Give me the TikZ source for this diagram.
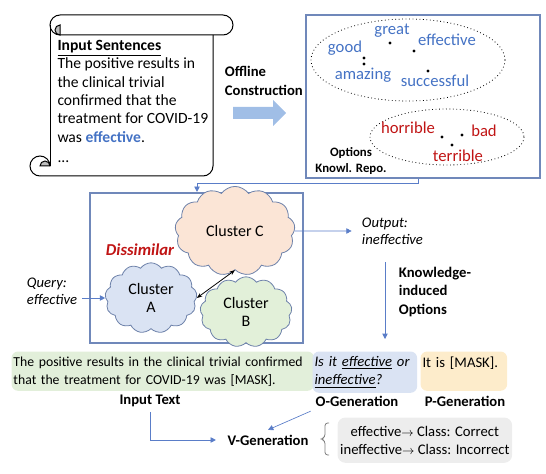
\documentclass[tikz,border=0pt]{standalone}
\usepackage{fontspec}
\setmainfont{Carlito}
\usetikzlibrary{shapes.symbols,fit,arrows.meta}
\definecolor{wordblue}{RGB}{68,114,196}
\definecolor{wordred}{RGB}{192,20,20}
\definecolor{boxline}{RGB}{112,136,186}
\definecolor{linkblue}{RGB}{90,125,200}
\definecolor{cloudline}{RGB}{110,130,170}
\definecolor{curlgray}{RGB}{190,190,190}
\tikzset{every picture/.style={line width=0.75pt}}
\tikzset{
	link/.style={draw=linkblue, line width=0.5pt, -{Triangle[length=4pt,width=4pt]}},
	repobox/.style={draw=boxline, line width=1.6pt, inner sep=0pt},
	cluster/.style={cloud, cloud puffs=13, cloud puff arc=110, draw=cloudline, line width=0.6pt, align=center, inner sep=0pt, font=\fontsize{12}{14}\selectfont},
	word/.style={font=\fontsize{12.5}{14}\selectfont},
	lbl/.style={font=\fontsize{11}{13.7}\selectfont\bfseries},
	genbox/.style={anchor=north west, rounded corners=5pt, align=left, inner sep=1.5pt, minimum height=29.5pt}}
\newcommand{\toarr}{{\small$\mathord{\rightarrow}$}}

\begin{document}
\begin{tikzpicture}[x=0.75pt,y=0.75pt,yscale=-1,xscale=1,font=\fontsize{11}{13.7}\selectfont]
	\useasboundingbox (0,0) rectangle (546,474);

	%Shape: Scroll body
	\draw (50,25) -- (50,166);
	\draw (213,35) -- (213,166) arc[start angle=0, end angle=90, radius=10] -- (40,176);
	%Shape: Scroll top roll
	\draw (60,35) arc[start angle=90, end angle=270, radius=10] -- (223,15) arc[start angle=270, end angle=450, radius=10] -- (60,35);
	\filldraw [fill=curlgray] (60,25) arc[start angle=270, end angle=90, radius=5] -- cycle;
	%Shape: Scroll bottom curl
	\draw (40,176) arc[start angle=90, end angle=270, radius=10] arc[start angle=270, end angle=360, radius=10];
	\filldraw [fill=curlgray] (40,166) arc[start angle=180, end angle=360, radius=5] -- cycle;
	% Text Node
	\node [anchor=north west, align=left, inner sep=0pt, font=\fontsize{11.7}{13.7}\selectfont] (sent) at (57,40) {\underline{\textbf{Input Sentences}}\\The positive results in\\the clinical trivial\\confirmed that the\\treatment for COVID-19\\was \textcolor{wordblue}{\textbf{effective}}.\\[2pt]...};

	%Right Arrow
	\draw [draw opacity=0][fill={rgb, 255:red, 160; green, 190; blue, 230}, fill opacity=1] (233,107) -- (273,107) -- (273,100) -- (286,113) -- (273,126) -- (273,119) -- (233,119) -- cycle;
	% Text Node
	\node [lbl, anchor=west, align=left] (offline) at (220,81) {Offline\\Construction};

	%Shape: Rectangle (knowledge repository)
	\node [repobox, fit={(306,15) (540,178)}] (repo) {};
	%Shape: Ellipse
	\draw [dotted, line width=0.6pt] (408,60) ellipse [x radius=97, y radius=41];
	%Shape: Ellipse
	\draw [dotted, line width=0.6pt] (447,137) ellipse [x radius=77, y radius=28];
	% Text Node
	\node [word, text=wordblue] (great) at (392,31) {great};
	\node [word, text=wordblue] (effective) at (447,40) {effective};
	\node [word, text=wordblue] (good) at (345,48) {good};
	\node [word, text=wordblue] (amazing) at (363,75) {amazing};
	\node [word, text=wordblue] (successful) at (435,81) {successful};
	\node [word, text=wordred] (horrible) at (408,128) {horrible};
	\node [word, text=wordred] (bad) at (484,131) {bad};
	\node [word, text=wordred] (terrible) at (458,156) {terrible};
	\foreach \dx/\dy in {390/43, 414/51, 364/58, 364/64, 428/71, 442/137, 462/135, 452/145}
		\fill (\dx,\dy) circle [radius=1.6];
	% Text Node
	\node [font=\fontsize{9.6}{11.5}\selectfont\bfseries, align=center] (optlbl) at (351,161) {Options\\Knowl. Repo.};

	%Shape: Rectangle (cluster space)
	\node [repobox, fit={(90,193) (303,343)}] (space) {};
	\coordinate (kbend) at (418,183);
	\coordinate (kdrop) at (197,183);
	\draw [link] (repo.south -| kbend) |- (kdrop) -- (kdrop |- space.north);

	%Shape: Clouds
	\node [cluster, fill={rgb, 255:red, 251; green, 229; blue, 214}, minimum width=90pt, minimum height=44pt] (clC) at (235,231) {Cluster C};
	\node [cluster, fill={rgb, 255:red, 226; green, 240; blue, 217}, minimum width=69pt, minimum height=45pt] (clB) at (246,312) {Cluster\\B};
	\node [cluster, fill={rgb, 255:red, 218; green, 227; blue, 243}, minimum width=69pt, minimum height=45pt] (clA) at (151,298) {Cluster\\A};
	\draw [{Stealth[length=4pt]}-{Stealth[length=4pt]}, line width=0.6pt] (clA.east) -- (clC.south);
	% Text Node
	\node [font=\fontsize{12.5}{14}\selectfont\bfseries\itshape, text=wordred] (dissim) at (140,250) {Dissimilar};

	% Text Node
	\node [font=\fontsize{11}{12.5}\selectfont\itshape, align=left] (query) at (52,291) {Query:\\effective};
	\draw [link] (query.east |- clA.west) -- (clA.west);
	% Text Node
	\node [font=\fontsize{11}{12.5}\selectfont\itshape, align=left, anchor=west] (output) at (357,231) {Output:\\ineffective};
	\draw [link] (clC.east) -- ([xshift=-4pt]output.west);
	% Text Node
	\node [lbl, align=left, anchor=west] (kinduced) at (394,292) {Knowledge-\\induced\\Options};
	\coordinate (kiTop) at (385,262);
	\coordinate (kiEnd) at (385,339);
	\draw [link] (kiTop) -- (kiEnd);

	%Shape: Rounded boxes
	\node [genbox, fill={rgb, 255:red, 226; green, 239; blue, 218}, text width=224pt, font=\fontsize{10.3}{13.5}\selectfont] (intext) at (11,351) {The positive results in the clinical trivial confirmed\\that the treatment for COVID-19 was [MASK].};
	\node [genbox, fill={rgb, 255:red, 218; green, 227; blue, 243}, text width=75.5pt, minimum height=31pt] (ogen) at (312,351) {\itshape Is it \underline{effective} or\\\underline{ineffective}?};
	\node [genbox, fill={rgb, 255:red, 253; green, 236; blue, 203}, text width=62pt] (pgen) at (420,351) {It is [MASK].\\\mbox{}};
	% Text Node
	\node [lbl] (intextlbl) at (150,401) {Input Text};
	\node [lbl] (ogenlbl) at (357,401) {O-Generation};
	\node [lbl] (pgenlbl) at (465,401) {P-Generation};
	\node [lbl] (vgen) at (268,440) {V-Generation};
	\draw [link] (intextlbl.south) |- ([xshift=-5pt]vgen.west);
	\draw [link] (ogenlbl.south west) -- (vgen.north);

	%Shape: Brace
	\draw [color=gray, line width=0.6pt, rounded corners=2pt] (329,423) -- (325,423) -- (325,437) -- (321,439) -- (325,441) -- (325,455) -- (329,455);
	% Text Node
	\node [anchor=north west, fill={rgb, 255:red, 237; green, 237; blue, 237}, rounded corners=6pt, minimum width=131pt, minimum height=34pt, align=center, inner sep=1pt] (verb) at (337,417) {effective\toarr{} Class: Correct\\ineffective\toarr{} Class: Incorrect};

\end{tikzpicture}
\end{document}
